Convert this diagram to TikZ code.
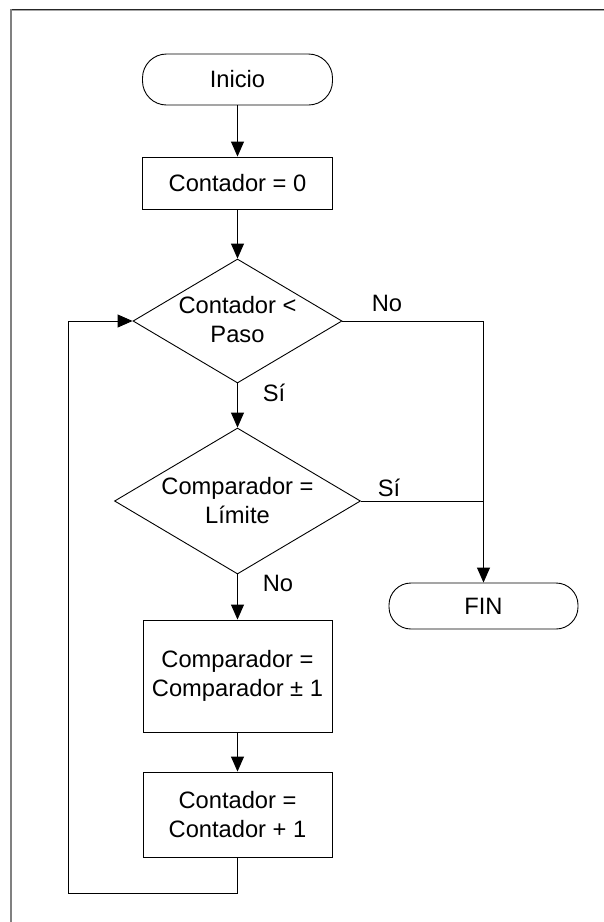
\documentclass[tikz,border=0pt]{standalone}
\usepackage{fontspec}
\setmainfont{Liberation Sans}
\usetikzlibrary{shapes.geometric,arrows.meta}
\tikzset{
  base/.style={draw=black, line width=0.9pt, font=\fontsize{23.7}{28.5}\selectfont, align=center, inner sep=0pt},
  term/.style={base, rectangle, minimum width=190pt},
  procbox/.style={base, rectangle, minimum width=189pt},
  dia/.style={base, diamond, aspect=1},
  txt/.style={font=\fontsize{23.7}{28.5}\selectfont, align=center, inner sep=0pt},
  conn/.style={line width=0.9pt, draw=black},
  arr/.style={conn, -{Triangle[length=15pt,width=13pt]}},
}
\begin{document}
\begin{tikzpicture}[x=1pt,y=-1pt]
\useasboundingbox (0,0) rectangle (604,922);
% frame (top and left edges)
\draw[black!85, line width=1pt] (10.5,9.5) -- (604,9.5);
\draw[gray!70, line width=0.8pt] (11.5,10.6) -- (604,10.6);
\draw[gray, line width=1.6pt] (11,9) -- (11,922);

% nodes
\node[term, minimum height=51pt, rounded corners=24pt] (ini) at (237.5,79.5) {Inicio};
\node[procbox, minimum width=190pt, minimum height=52pt] (b1) at (237.5,183) {Contador = 0};
\node[dia, minimum width=209pt, minimum height=124pt] (d1) at (237.5,321) {};
\node[txt] (d1t) at (237.5,319.5) {Contador <\\Paso};
\node[dia, minimum width=246pt, minimum height=146pt] (d2) at (237.5,501) {};
\node[txt] (d2t) at (237.5,500.5) {Comparador =\\Límite};
\node[procbox, minimum height=112pt] (b2) at (237.5,676) {Comparador =\\Comparador ± 1};
\node[procbox, minimum height=85pt] (b3) at (237.5,814.5) {Contador =\\Contador + 1};
\node[term, minimum width=189pt, minimum height=46pt, rounded corners=22pt] (fin) at (483.5,606) {FIN};

% labels
\node[txt] (lno1) at (387,303) {No};
\node[txt] (lsi1) at (274,393) {Sí};
\node[txt] (lsi2) at (389,488) {Sí};
\node[txt] (lno2) at (278,583) {No};

% connectors
\draw[arr] (ini.south) -- (b1.north);
\draw[arr] (b1.south) -- (d1.north);
\draw[arr] (d1.south) -- (d2.north);
\draw[arr] (d2.south) -- (b2.north);
\draw[arr] (b2.south) -- (b3.north);
\draw[arr] (d1.east) -| (fin.north);
\coordinate (jn) at (d2.east -| fin.north);
\draw[conn] (d2.east) -- (jn);
\coordinate (lb) at (68,893);
\draw[arr] (b3.south) |- (lb) |- (d1.west);
\end{tikzpicture}
\end{document}
